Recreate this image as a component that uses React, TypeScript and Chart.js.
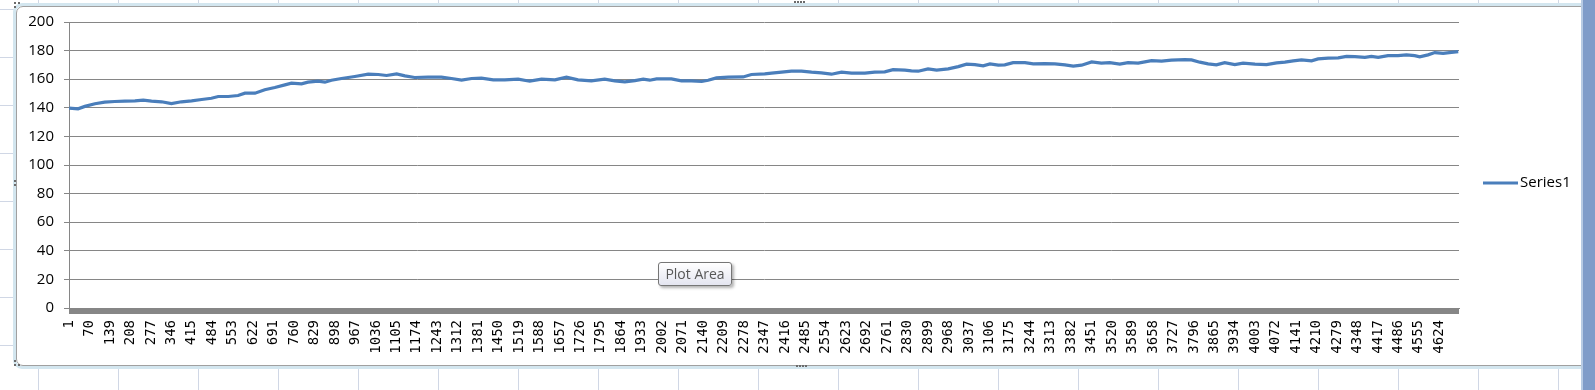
import React, { useEffect, useRef } from "react";
import { Chart, registerables } from "chart.js";

Chart.register(...registerables);

// ---- data ----
const seriesName = "Series1";
const categoryCount = 4690;

const sampleIndex = [
  1, 31, 54, 88, 121, 155, 189, 223, 251, 279, 313, 346, 380, 414, 448, 481, 504, 538, 571, 594,
  628, 661, 695, 729, 751, 785, 807, 841, 864, 886, 920, 965, 1010, 1044, 1072, 1106, 1134, 1167, 1212, 1257,
  1291, 1325, 1359, 1392, 1432, 1471, 1516, 1555, 1595, 1640, 1679, 1718, 1763, 1808, 1842, 1876, 1910, 1938, 1960, 1983,
  2033, 2067, 2101, 2135, 2157, 2185, 2225, 2275, 2303, 2348, 2371, 2405, 2438, 2472, 2506, 2539, 2573, 2607, 2641, 2686,
  2719, 2753, 2781, 2821, 2843, 2866, 2899, 2928, 2967, 3001, 3029, 3057, 3085, 3108, 3136, 3158, 3186, 3226, 3254, 3293,
  3327, 3361, 3389, 3417, 3451, 3484, 3512, 3546, 3574, 3608, 3653, 3687, 3720, 3765, 3788, 3816, 3844, 3872, 3900, 3934,
  3962, 4002, 4041, 4075, 4103, 4131, 4159, 4193, 4215, 4249, 4283, 4311, 4339, 4373, 4395, 4418, 4451, 4485, 4513, 4541,
  4558, 4586, 4609, 4637, 4665, 4688,
];

const sampleValue = [
  139.8, 139.3, 141, 142.8, 144, 144.4, 144.7, 144.9, 145.3, 144.7, 144.2, 143, 144.2, 144.9, 145.8, 146.7, 147.9, 147.9, 148.6, 150.2,
  150.2, 152.6, 154.2, 156, 157.2, 156.7, 157.9, 158.6, 157.9, 159.3, 160.5, 161.9, 163.5, 163.3, 162.6, 163.7, 162.3, 161.2, 161.4, 161.4,
  160.5, 159.3, 160.5, 160.7, 159.5, 159.5, 160, 158.6, 160, 159.5, 161.4, 159.5, 158.8, 160, 158.8, 158.1, 159, 160, 159.3, 160.2,
  160.2, 158.8, 158.8, 158.4, 159.3, 160.9, 161.4, 161.6, 163.3, 163.7, 164.2, 164.9, 165.6, 165.6, 164.9, 164.4, 163.5, 164.9, 164.2, 164.2,
  164.9, 165.1, 166.7, 166.3, 165.8, 165.6, 167.2, 166.3, 167.2, 168.8, 170.5, 170.2, 169.3, 170.7, 169.8, 170, 171.6, 171.6, 170.7, 170.9,
  170.7, 170, 169.1, 169.8, 172.1, 171.2, 171.6, 170.5, 171.6, 171.2, 173, 172.6, 173.3, 173.7, 173.5, 171.9, 170.7, 170, 171.6, 170.2,
  171.2, 170.5, 170.2, 171.4, 171.9, 172.8, 173.5, 172.8, 174.2, 174.7, 174.9, 176, 175.8, 175.3, 176, 175.3, 176.5, 176.5, 177, 176.5,
  175.6, 177, 178.6, 178.1, 178.8, 179.3,
];

const xTickLabels = [
  1, 70, 139, 208, 277, 346, 415, 484, 553, 622, 691, 760, 829, 898, 967, 1036, 1105, 1174, 1243, 1312,
  1381, 1450, 1519, 1588, 1657, 1726, 1795, 1864, 1933, 2002, 2071, 2140, 2209, 2278, 2347, 2416, 2485, 2554, 2623, 2692,
  2761, 2830, 2899, 2968, 3037, 3106, 3175, 3244, 3313, 3382, 3451, 3520, 3589, 3658, 3727, 3796, 3865, 3934, 4003, 4072,
  4141, 4210, 4279, 4348, 4417, 4486, 4555, 4624,
];

const yTickLabels = [0, 20, 40, 60, 80, 100, 120, 140, 160, 180, 200];

// ---- styling ----
const LINE_COLOR = "#4a7ebb";
const AXIS_GRAY = "#868686";
const EXCEL_GRID = "#d0d7e5";

export default function App() {
  const canvasRef = useRef<HTMLCanvasElement | null>(null);

  useEffect(() => {
    const canvas = canvasRef.current;
    if (!canvas) return;

    const excelDecor = {
      id: "excelDecor",
      afterDraw(chart: any) {
        const { ctx, chartArea } = chart;
        ctx.save();
        // dense category tick marks merge into a grey band under the axis
        ctx.fillStyle = AXIS_GRAY;
        ctx.fillRect(chartArea.left, chartArea.bottom, chartArea.right - chartArea.left, 6);
        // legend (line sample + label)
        const ds = chart.data.datasets[0];
        const ly = 183;
        const lx = chartArea.right + 24;
        ctx.strokeStyle = ds.borderColor;
        ctx.lineWidth = 3;
        ctx.beginPath();
        ctx.moveTo(lx, ly);
        ctx.lineTo(lx + 35, ly);
        ctx.stroke();
        ctx.fillStyle = "#000";
        ctx.font = "15px 'Open Sans'";
        ctx.textAlign = "left";
        ctx.textBaseline = "middle";
        ctx.fillText(ds.label, lx + 37, ly);
        ctx.restore();
      },
    };

    const chart = new Chart(canvas, {
      type: "line",
      data: {
        datasets: [
          {
            label: seriesName,
            data: sampleIndex.map((x, i) => ({ x, y: sampleValue[i] })),
            borderColor: LINE_COLOR,
            backgroundColor: LINE_COLOR,
            borderWidth: 3.2,
            pointRadius: 0,
            tension: 0,
            fill: false,
          },
        ],
      },
      options: {
        animation: false,
        responsive: false,
        maintainAspectRatio: false,
        events: [],
        layout: { padding: { left: 0, right: 136, top: 22, bottom: 32 } },
        plugins: {
          legend: { display: false },
          tooltip: { enabled: false },
        },
        scales: {
          x: {
            type: "linear",
            min: 0.5,
            max: categoryCount + 0.5,
            afterBuildTicks: (scale: any) => {
              scale.ticks = xTickLabels.map((v) => ({ value: v }));
            },
            afterFit: (scale: any) => {
              scale.height = 50;
            },
            ticks: {
              autoSkip: false,
              minRotation: 90,
              maxRotation: 90,
              padding: 12,
              color: "#000",
              font: { family: "'DejaVu Sans Mono'", size: 14 },
              callback: (v: any) => String(v),
            },
            grid: { display: false, drawTicks: false },
            border: { display: true, color: AXIS_GRAY, width: 1 },
          },
          y: {
            min: 0,
            max: 200,
            afterBuildTicks: (scale: any) => {
              scale.ticks = yTickLabels.map((v) => ({ value: v }));
            },
            afterFit: (scale: any) => {
              scale.width = 69;
            },
            ticks: {
              padding: 10,
              color: "#000",
              font: { family: "'Open Sans'", size: 15 },
            },
            grid: { color: AXIS_GRAY, lineWidth: 1, tickLength: 5, drawTicks: true },
            border: { display: true, color: AXIS_GRAY, width: 1 },
          },
        },
      },
      plugins: [excelDecor],
    });

    return () => chart.destroy();
  }, []);

  const dot = (left: number, top: number, key: string) => (
    <div
      key={key}
      style={{ position: "absolute", left, top, width: 2, height: 2, background: "#6b6b6b" }}
    />
  );

  return (
    <div
      style={{
        position: "fixed",
        left: 0,
        top: 0,
        width: 1595,
        height: 390,
        overflow: "hidden",
        backgroundColor: "#fff",
        backgroundImage: `repeating-linear-gradient(to right, transparent 0px, transparent 38px, ${EXCEL_GRID} 38px, ${EXCEL_GRID} 39px, transparent 39px, transparent 80px), repeating-linear-gradient(to bottom, transparent 0px, transparent 9px, ${EXCEL_GRID} 9px, ${EXCEL_GRID} 10px, transparent 10px, transparent 48px)`,
      }}
    >
      {/* chart frame */}
      <div
        style={{
          position: "absolute",
          left: 13,
          top: 3,
          width: 1600,
          height: 360,
          border: "3px solid #d3e6ef",
          borderRadius: 9,
          background: "#fff",
        }}
      >
        <div
          style={{
            position: "absolute",
            inset: 0,
            border: "1px solid #a0a0a0",
            borderRadius: 7,
          }}
        />
      </div>
      {/* resize handles */}
      {dot(794, 1, "t1")}
      {dot(797, 1, "t2")}
      {dot(800, 1, "t3")}
      {dot(803, 1, "t4")}
      {dot(796, 365, "b1")}
      {dot(799, 365, "b2")}
      {dot(802, 365, "b3")}
      {dot(805, 365, "b4")}
      {dot(14, 180, "l1")}
      {dot(14, 184, "l2")}
      {dot(14, 2, "c1")}
      {dot(18, 2, "c2")}
      {dot(14, 6, "c3")}
      {dot(14, 360, "d1")}
      {dot(14, 364, "d2")}
      {dot(18, 364, "d3")}

      <canvas
        ref={canvasRef}
        width={1595}
        height={390}
        style={{ position: "absolute", left: 0, top: 0, width: 1595, height: 390 }}
      />

      {/* Excel hover tooltip */}
      <div
        style={{
          position: "absolute",
          left: 658,
          top: 262,
          width: 72,
          height: 22,
          border: "1px solid #767676",
          borderRadius: 3,
          background: "linear-gradient(#ffffff, #e4e5f0)",
          boxShadow: "2px 2px 3px rgba(0,0,0,0.3)",
          color: "#575757",
          font: "14px 'Open Sans'",
          lineHeight: "22px",
          textAlign: "center",
          whiteSpace: "nowrap",
        }}
      >
        Plot Area
      </div>

      {/* right window edge */}
      <div
        style={{
          position: "absolute",
          left: 1581,
          top: 0,
          width: 14,
          height: 390,
          background: "#7f9cc9",
          borderLeft: "2px solid #b7cbe4",
          boxSizing: "border-box",
        }}
      />
    </div>
  );
}
